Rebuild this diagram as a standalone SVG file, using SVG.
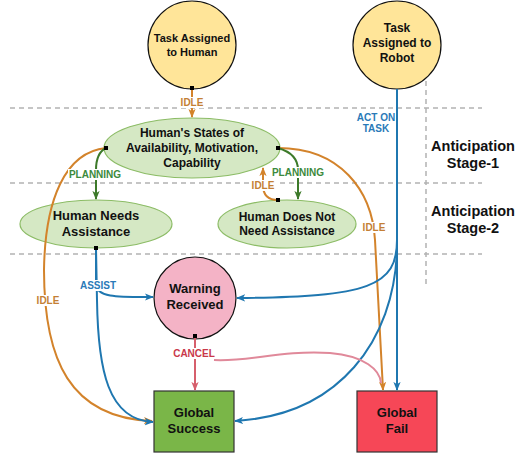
<svg xmlns="http://www.w3.org/2000/svg" width="519" height="455" viewBox="0 0 519 455">
<defs>
<style>
.t{font-family:"Liberation Sans",Arial,sans-serif;font-weight:bold;text-anchor:middle;fill:#111}
.lb{font-family:"Liberation Sans",Arial,sans-serif;font-weight:bold;text-anchor:middle;font-size:10px}
.dash{stroke:#b3b3b3;stroke-width:1.5;stroke-dasharray:5 4;fill:none}
.c{fill:none;stroke-width:2}
.or{stroke:#d3832b}
.bl{stroke:#1f77b0}
.gr{stroke:#3d7a2a}
.rd{stroke:#d65f6c}
.pk{stroke:#e0899a}
.ellg{fill:#d5e8c4;stroke:#8cbc66;stroke-width:1.2}
.yel{fill:#ffe599;stroke:#111;stroke-width:1.2}
.sq{fill:#000}
.bg{fill:#fff}
</style>
<marker id="aor" viewBox="0 0 10 10" refX="9" refY="5" markerWidth="9" markerHeight="9" markerUnits="userSpaceOnUse" orient="auto"><path d="M0,1 L10,5 L0,9 L2.5,5 z" fill="#d3832b"/></marker>
<marker id="abl" viewBox="0 0 10 10" refX="9" refY="5" markerWidth="9" markerHeight="9" markerUnits="userSpaceOnUse" orient="auto"><path d="M0,1 L10,5 L0,9 L2.5,5 z" fill="#1f77b0"/></marker>
<marker id="agr" viewBox="0 0 10 10" refX="9" refY="5" markerWidth="9" markerHeight="9" markerUnits="userSpaceOnUse" orient="auto"><path d="M0,1 L10,5 L0,9 L2.5,5 z" fill="#3d7a2a"/></marker>
<marker id="ard" viewBox="0 0 10 10" refX="9" refY="5" markerWidth="9" markerHeight="9" markerUnits="userSpaceOnUse" orient="auto"><path d="M0,1 L10,5 L0,9 L2.5,5 z" fill="#d65f6c"/></marker>
</defs>
<rect width="519" height="455" fill="#fff"/>
<g id="stage-lines">
<line class="dash" x1="10" y1="108" x2="482" y2="108"/>
<line class="dash" x1="10" y1="183" x2="482" y2="183"/>
<line class="dash" x1="10" y1="254" x2="482" y2="254"/>
<line class="dash" x1="426" y1="81" x2="426" y2="285"/>
</g>
<g id="stage-labels">
<text class="t" x="473" y="151" font-size="14.5">Anticipation</text>
<text class="t" x="473" y="168" font-size="14.5">Stage-1</text>
<text class="t" x="473" y="216" font-size="14.5">Anticipation</text>
<text class="t" x="473" y="233" font-size="14.5">Stage-2</text>
</g>
<g id="task-human">
<circle class="yel" cx="192" cy="45" r="44"/>
<text class="t" x="192" y="42" font-size="11">Task Assigned</text>
<text class="t" x="192" y="56" font-size="11">to Human</text>
</g>
<g id="task-robot">
<circle class="yel" cx="397" cy="45" r="44"/>
<text class="t" x="397" y="32" font-size="12">Task</text>
<text class="t" x="397" y="47" font-size="12">Assigned to</text>
<text class="t" x="397" y="62" font-size="12">Robot</text>
</g>
<g id="human-states">
<ellipse class="ellg" cx="192" cy="148" rx="88" ry="30"/>
<text class="t" x="192" y="137" font-size="12">Human's States of</text>
<text class="t" x="192" y="152" font-size="12">Availability, Motivation,</text>
<text class="t" x="192" y="167" font-size="12">Capability</text>
</g>
<g id="needs-assistance">
<ellipse class="ellg" cx="96" cy="224" rx="76" ry="24"/>
<text class="t" x="96" y="220" font-size="13">Human Needs</text>
<text class="t" x="96" y="236" font-size="13">Assistance</text>
</g>
<g id="no-assistance">
<ellipse class="ellg" cx="287" cy="224" rx="69" ry="24"/>
<text class="t" x="287" y="221" font-size="12">Human Does Not</text>
<text class="t" x="287" y="235" font-size="12">Need Assistance</text>
</g>
<g id="warning">
<circle cx="195" cy="298" r="41" fill="#f4b3c6" stroke="#111" stroke-width="1.2"/>
<text class="t" x="195" y="293" font-size="13">Warning</text>
<text class="t" x="195" y="309" font-size="13">Received</text>
</g>
<g id="global-success">
<rect x="154" y="391" width="80" height="61" fill="#7ab648" stroke="#333" stroke-width="1.2"/>
<text class="t" x="194" y="417" font-size="13">Global</text>
<text class="t" x="194" y="433" font-size="13">Success</text>
</g>
<g id="global-fail">
<rect x="357" y="391" width="80" height="61" fill="#f64757" stroke="#333" stroke-width="1.2"/>
<text class="t" x="397" y="417" font-size="13">Global</text>
<text class="t" x="397" y="433" font-size="13">Fail</text>
</g>
<g id="connectors">
<path class="c or" d="M192,88 L192,117" marker-end="url(#aor)"/>
<path class="c or" d="M106,148 C65,152 45,200 44,270 C44,360 70,418 152,421" marker-end="url(#aor)"/>
<path class="c or" d="M278,148 C340,148 372,190 375,240 L383,390" marker-end="url(#aor)"/>
<path class="c or" d="M278,200 C268,200 263,195 263,185 L263,168" marker-end="url(#aor)"/>
<path class="c gr" d="M106,148 C98,152 96,160 96,170 L96,199" marker-end="url(#agr)"/>
<path class="c gr" d="M278,148 C292,152 298,160 298,170 L298,199" marker-end="url(#agr)"/>
<path class="c bl" d="M96,248 L97,300 C98,370 108,420 153,422" marker-end="url(#abl)"/>
<path class="c bl" d="M96,248 L96,284 C96,298 120,297 153,297" marker-end="url(#abl)"/>
<path class="c bl" d="M397,89 L397,240 C397,286 370,297 237,298" marker-end="url(#abl)"/>
<path class="c bl" d="M397,89 L397,250 C394,340 340,415 235,421" marker-end="url(#abl)"/>
<path class="c bl" d="M397,89 L397,390" marker-end="url(#abl)"/>
<path class="c pk" d="M214,360 C250,362 280,350 330,353 C365,356 380,370 381,383"/>
<path class="c rd" d="M195,336 L195,390" marker-end="url(#ard)"/>
<rect class="sq" x="190" y="86" width="4" height="4"/>
<rect class="sq" x="104" y="146" width="4" height="4"/>
<rect class="sq" x="276" y="146" width="4" height="4"/>
<rect class="sq" x="94" y="246" width="4" height="4"/>
<rect class="sq" x="276" y="198" width="4" height="4"/>
<rect class="sq" x="193" y="334" width="4" height="4"/>
<rect class="bg" x="179" y="97" width="26" height="11"/>
<text class="lb" x="192" y="105.6" fill="#c47f35">IDLE</text>
<text class="lb" x="376" y="120.6" fill="#2a7ab8">ACT ON</text>
<text class="lb" x="376" y="131.6" fill="#2a7ab8">TASK</text>
<rect class="bg" x="68" y="169" width="54" height="11"/>
<text class="lb" x="95" y="177.6" fill="#3c8a3c">PLANNING</text>
<rect class="bg" x="271" y="167" width="54" height="11"/>
<text class="lb" x="298" y="175.6" fill="#3c8a3c">PLANNING</text>
<rect class="bg" x="250" y="180" width="26" height="11"/>
<text class="lb" x="263" y="188.6" fill="#c47f35">IDLE</text>
<rect class="bg" x="361" y="222" width="26" height="11"/>
<text class="lb" x="374" y="230.6" fill="#c47f35">IDLE</text>
<rect class="bg" x="35" y="295" width="26" height="11"/>
<text class="lb" x="48" y="303.6" fill="#c47f35">IDLE</text>
<rect class="bg" x="78" y="280" width="40" height="11"/>
<text class="lb" x="98" y="288.6" fill="#2a7ab8">ASSIST</text>
<rect class="bg" x="171" y="348" width="46" height="11"/>
<text class="lb" x="194" y="356.6" fill="#c9384a">CANCEL</text>
</g>
</svg>
